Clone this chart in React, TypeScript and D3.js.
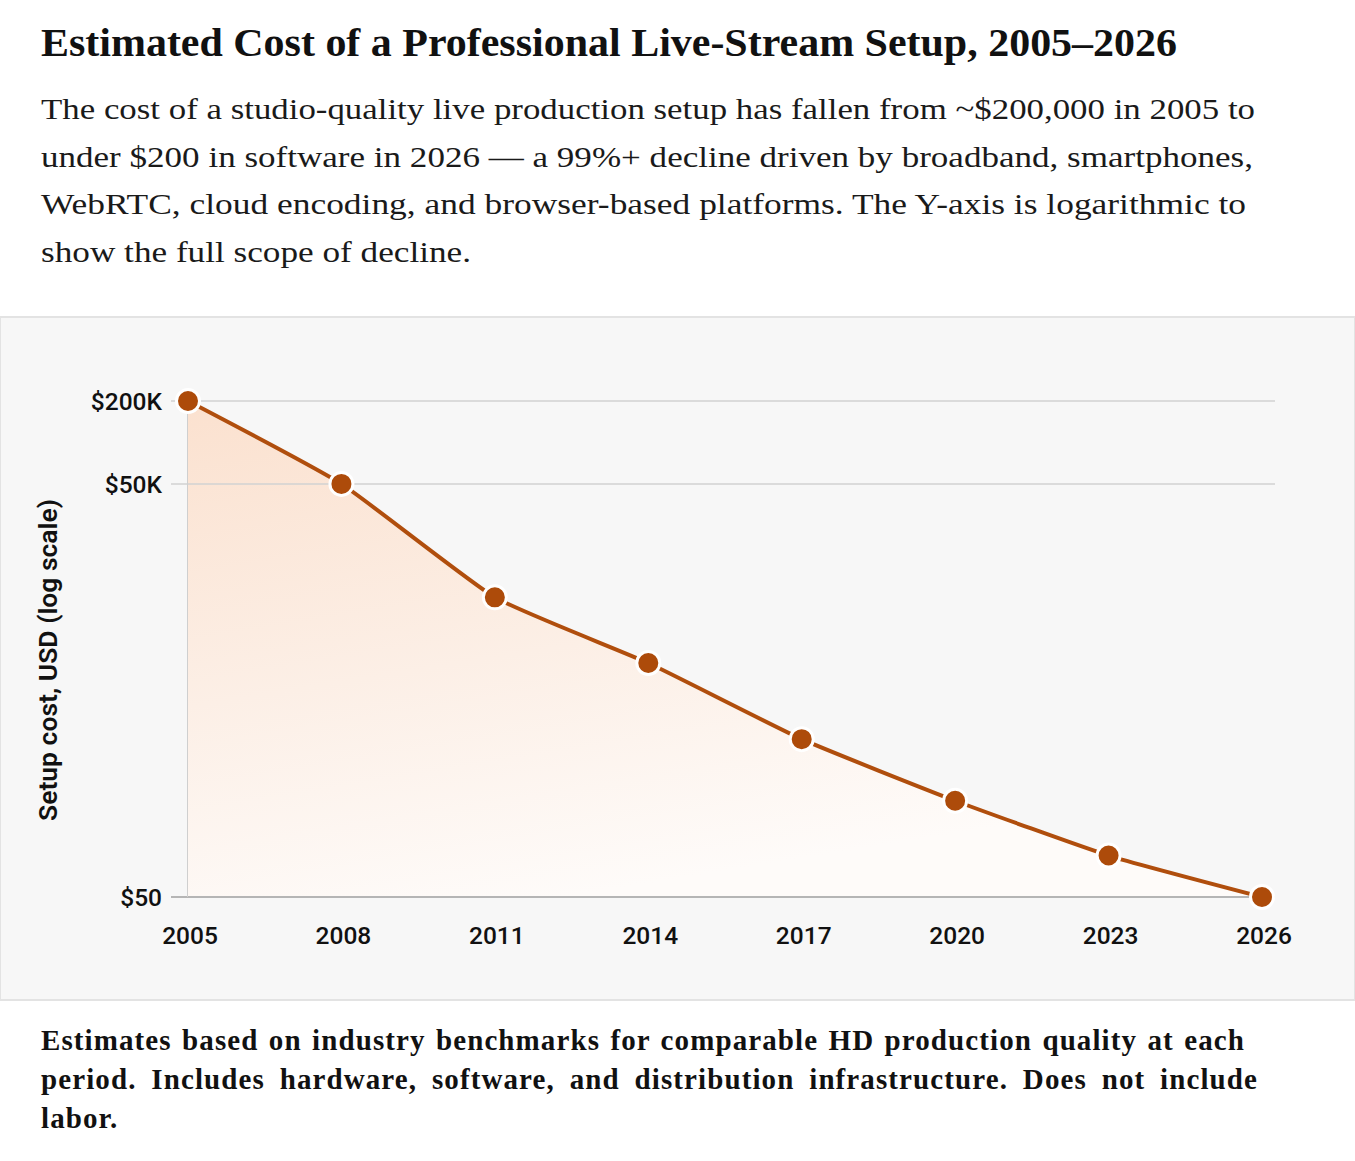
import * as d3 from "d3";
import React, { useEffect, useRef } from "react";

// Years and estimated setup cost (USD)
const years = [2005, 2008, 2011, 2014, 2017, 2020, 2023, 2026];
const costs = [200000, 50000, 7500, 2500, 700, 250, 100, 50];

// Y axis ticks and their labels
const yTicks = [50, 50000, 200000];
const yTickLabels = ["$50", "$50K", "$200K"];

const title = "Estimated Cost of a Professional Live-Stream Setup, 2005–2026";
const subtitleLines = [
  "The cost of a studio-quality live production setup has fallen from ~$200,000 in 2005 to",
  "under $200 in software in 2026 — a 99%+ decline driven by broadband, smartphones,",
  "WebRTC, cloud encoding, and browser-based platforms. The Y-axis is logarithmic to",
  "show the full scope of decline.",
];
const subtitleWidths = [1214, 1212, 1205, 430];
const noteLines = [
  "Estimates based on industry benchmarks for comparable HD production quality at each",
  "period. Includes hardware, software, and distribution infrastructure. Does not include",
  "labor.",
];
const noteWidths = [1204, 1217, 0];

const W = 1355;
const H = 1161;

// stretch a justified line by widening the gaps between words
function justify(node: SVGTextElement, target: number) {
  if (!target) return;
  const len = node.getComputedTextLength();
  const gaps = (node.textContent || "").split(" ").length - 1;
  if (len < target && gaps > 0) {
    d3.select(node).attr("word-spacing", (target - len) / gaps);
  } else {
    d3.select(node)
      .attr("textLength", target)
      .attr("lengthAdjust", "spacingAndGlyphs");
  }
}

function App() {
  const ref = useRef<SVGSVGElement>(null);

  useEffect(() => {
    const svg = d3.select(ref.current);
    svg.selectAll("*").remove();

    const x = d3.scaleLinear().domain([2005, 2026]).range([188, 1262]);
    const y = d3.scaleLog().domain([50, 200000]).range([897, 401]);

    // Heading
    svg
      .append("text")
      .attr("x", 41)
      .attr("y", 56)
      .attr("font-family", "'Liberation Serif', serif")
      .attr("font-weight", 700)
      .attr("font-size", 41)
      .attr("fill", "#111")
      .attr("textLength", 1136)
      .attr("lengthAdjust", "spacingAndGlyphs")
      .text(title);

    svg
      .append("g")
      .selectAll("text")
      .data(subtitleLines)
      .join("text")
      .attr("x", 41)
      .attr("y", (_, i) => 119 + i * 47.5)
      .attr("font-family", "'Liberation Serif', serif")
      .attr("font-size", 29)
      .attr("fill", "#1a1a1a")
      .attr("textLength", (_, i) => subtitleWidths[i])
      .attr("lengthAdjust", "spacingAndGlyphs")
      .text((d) => d);

    // Chart panel
    svg
      .append("rect")
      .attr("x", 0)
      .attr("y", 317)
      .attr("width", W)
      .attr("height", 683)
      .attr("fill", "#f7f7f7")
      .attr("stroke", "#e3e3e3")
      .attr("stroke-width", 2);

    const defs = svg.append("defs");
    const grad = defs
      .append("linearGradient")
      .attr("id", "areaFill")
      .attr("x1", 0)
      .attr("y1", 0)
      .attr("x2", 0.35)
      .attr("y2", 1);
    grad.append("stop").attr("offset", "0%").attr("stop-color", "#fbe1cf");
    grad.append("stop").attr("offset", "55%").attr("stop-color", "#fcefe6");
    grad.append("stop").attr("offset", "100%").attr("stop-color", "#fefbf9");

    const data = years.map((yr, i) => ({ year: yr, cost: costs[i] }));
    const curve = d3.curveCardinal.tension(0.55);

    const area = d3
      .area<{ year: number; cost: number }>()
      .x((d) => x(d.year))
      .y0(y(50))
      .y1((d) => y(d.cost))
      .curve(curve);

    svg.append("path").datum(data).attr("d", area).attr("fill", "url(#areaFill)");

    // Grid lines and y labels
    const grid = svg.append("g");
    grid
      .selectAll("line")
      .data(yTicks)
      .join("line")
      .attr("x1", 171)
      .attr("x2", 1275)
      .attr("y1", (d) => y(d))
      .attr("y2", (d) => y(d))
      .attr("stroke", (d) => (d === 50 ? "#b5b5b5" : "#d2d2d2"))
      .attr("stroke-width", (d) => (d === 50 ? 2 : 1.5));

    svg
      .append("line")
      .attr("x1", 187.5)
      .attr("x2", 187.5)
      .attr("y1", y(200000))
      .attr("y2", y(50))
      .attr("stroke", "#cfcfcf")
      .attr("stroke-width", 1);

    grid
      .selectAll("text")
      .data(yTicks)
      .join("text")
      .attr("x", 162)
      .attr("y", (d) => y(d))
      .attr("dy", "0.36em")
      .attr("text-anchor", "end")
      .attr("font-family", "Roboto, sans-serif")
      .attr("font-weight", 500)
      .attr("font-size", 24.5)
      .attr("fill", "#111")
      .text((_, i) => yTickLabels[i]);

    // X labels
    svg
      .append("g")
      .selectAll("text")
      .data(years)
      .join("text")
      .attr("x", (d) => x(d) + 2)
      .attr("y", 944)
      .attr("text-anchor", "middle")
      .attr("font-family", "Roboto, sans-serif")
      .attr("font-weight", 500)
      .attr("font-size", 24.5)
      .attr("fill", "#111")
      .text((d) => d);

    svg
      .append("text")
      .attr("transform", "translate(57,660) rotate(-90)")
      .attr("text-anchor", "middle")
      .attr("font-family", "Roboto, sans-serif")
      .attr("font-weight", 600)
      .attr("font-size", 26.5)
      .attr("fill", "#111")
      .text("Setup cost, USD (log scale)");

    // Line and markers
    const line = d3
      .line<{ year: number; cost: number }>()
      .x((d) => x(d.year))
      .y((d) => y(d.cost))
      .curve(curve);

    svg
      .append("path")
      .datum(data)
      .attr("d", line)
      .attr("fill", "none")
      .attr("stroke", "#b04e0d")
      .attr("stroke-width", 4);

    svg
      .append("g")
      .selectAll("circle")
      .data(data)
      .join("circle")
      .attr("cx", (d) => x(d.year))
      .attr("cy", (d) => y(d.cost))
      .attr("r", 11.5)
      .attr("fill", "#ad4b0a")
      .attr("stroke", "#fff")
      .attr("stroke-width", 3);

    // Footnote
    svg
      .append("g")
      .selectAll("text")
      .data(noteLines)
      .join("text")
      .attr("x", 41)
      .attr("y", (_, i) => 1050 + i * 39)
      .attr("font-family", "'Liberation Serif', serif")
      .attr("font-weight", 600)
      .attr("font-size", 29)
      .attr("letter-spacing", 1.1)
      .attr("fill", "#111")
      .text((d) => d)
      .each(function (_, i) {
        justify(this as SVGTextElement, noteWidths[i]);
      });
  }, []);

  return (
    <svg
      ref={ref}
      width={W}
      height={H}
      style={{ position: "absolute", left: 0, top: 0, background: "#fff" }}
    />
  );
}

export default App;
